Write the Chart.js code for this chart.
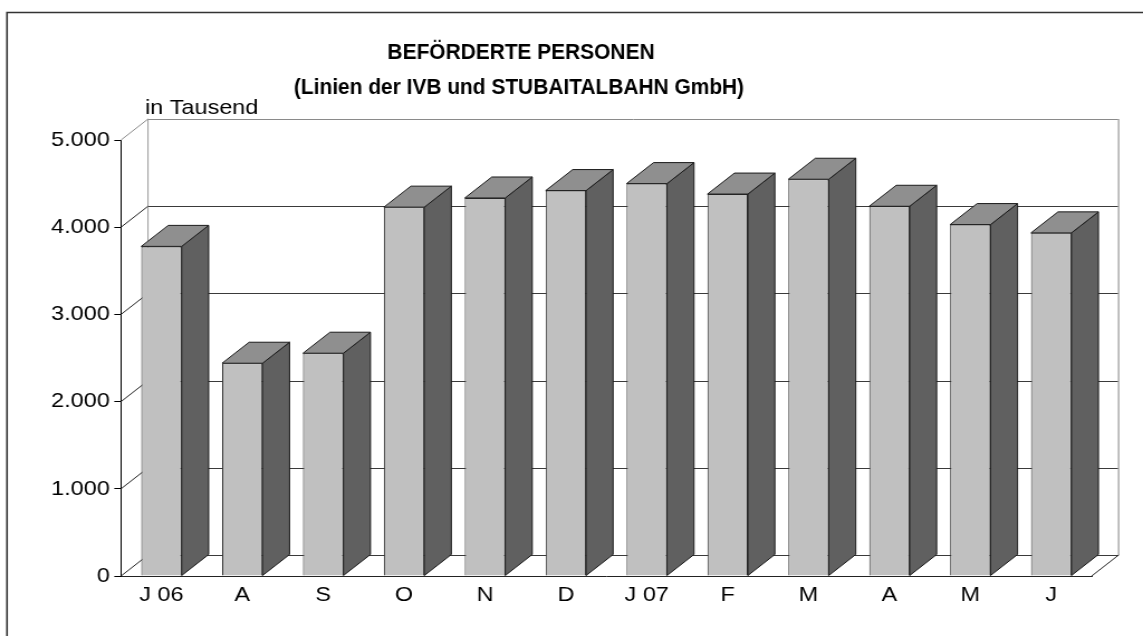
<!DOCTYPE html>
<html>
<head>
<meta charset="utf-8">
<script src="https://cdn.jsdelivr.net/npm/chart.js@4/dist/chart.umd.min.js"></script>
<style>
  html, body { margin: 0; padding: 0; background: #fff; }
</style>
</head>
<body>
<canvas id="c" width="1024" height="636" style="display:block;width:1143px;height:636px;"></canvas>
<script>
// ---- data ----
const categories = ['J 06', 'A', 'S', 'O', 'N', 'D', 'J 07', 'F', 'M', 'A', 'M', 'J'];
const values = [3780, 2440, 2555, 4230, 4335, 4420, 4500, 4380, 4550, 4240, 4030, 3935];
const yTickValues = [0, 1000, 2000, 3000, 4000, 5000];
const yTickLabels = ['0', '1.000', '2.000', '3.000', '4.000', '5.000'];
const titleLines = ['BEFÖRDERTE PERSONEN', '(Linien der IVB und STUBAITALBAHN GmbH)'];
const unitLabel = 'in Tausend';

// ---- styling ----
const STRETCH = 1143 / 1024;   // canvas is shown horizontally stretched
const DX = 24.2;               // depth offset (canvas px)
const DY = 21;
const FONT = '"Liberation Sans", Arial, Helvetica, sans-serif';

const canvas = document.getElementById('c');
canvas.style.width = '1143px';
canvas.style.height = '636px';

const threeD = {
  id: 'threeD',
  beforeDatasetsDraw(chart) {
    const { ctx, chartArea: a, scales: { y } } = chart;
    ctx.save();
    ctx.lineWidth = 1;
    // back wall grid lines
    yTickValues.forEach((v) => {
      const py = Math.round(y.getPixelForValue(v) - DY) + 0.5;
      ctx.strokeStyle = v === yTickValues[yTickValues.length - 1] ? '#8a8a8a' : '#3a3a3a';
      ctx.beginPath();
      ctx.moveTo(a.left + DX, py);
      ctx.lineTo(a.right + DX, py);
      ctx.stroke();
    });
    // left back edge
    ctx.strokeStyle = '#9a9a9a';
    ctx.beginPath();
    ctx.moveTo(a.left + DX, a.top - DY);
    ctx.lineTo(a.left + DX, a.bottom - DY);
    ctx.stroke();
    // right back edge
    ctx.strokeStyle = '#b0b0b0';
    ctx.lineWidth = 1.6;
    ctx.beginPath();
    ctx.moveTo(a.right + DX, a.top - DY);
    ctx.lineTo(a.right + DX, a.bottom - DY);
    ctx.stroke();
    ctx.lineWidth = 1;
    // diagonals from front axis ticks to back wall
    yTickValues.forEach((v) => {
      const py = y.getPixelForValue(v);
      ctx.strokeStyle = v === yTickValues[yTickValues.length - 1] ? '#8a8a8a' : '#222';
      ctx.beginPath();
      ctx.moveTo(a.left, py);
      ctx.lineTo(a.left + DX, py - DY);
      ctx.stroke();
    });
    // floor right diagonal
    ctx.strokeStyle = '#222';
    ctx.beginPath();
    ctx.moveTo(a.right, a.bottom);
    ctx.lineTo(a.right + DX, a.bottom - DY);
    ctx.stroke();
    ctx.restore();
  },
  afterDatasetsDraw(chart) {
    const { ctx } = chart;
    const meta = chart.getDatasetMeta(0);
    ctx.save();
    ctx.lineWidth = 1;
    ctx.lineJoin = 'miter';
    ctx.strokeStyle = '#1a1a1a';
    meta.data.forEach((el) => {
      const L = el.x - el.width / 2;
      const R = el.x + el.width / 2;
      const T = el.y;
      const B = el.base;
      // side face
      ctx.fillStyle = '#606060';
      ctx.beginPath();
      ctx.moveTo(R, T);
      ctx.lineTo(R + DX, T - DY);
      ctx.lineTo(R + DX, B - DY);
      ctx.lineTo(R, B);
      ctx.closePath();
      ctx.fill();
      ctx.stroke();
      // top face
      ctx.fillStyle = '#8f8f8f';
      ctx.beginPath();
      ctx.moveTo(L, T);
      ctx.lineTo(L + DX, T - DY);
      ctx.lineTo(R + DX, T - DY);
      ctx.lineTo(R, T);
      ctx.closePath();
      ctx.fill();
      ctx.stroke();
    });
    ctx.restore();
  },
  afterDraw(chart) {
    const { ctx } = chart;
    ctx.save();
    // outer frame (top + left)
    ctx.strokeStyle = '#333';
    ctx.lineWidth = 1.6;
    ctx.beginPath();
    ctx.moveTo(1024, 12.5);
    ctx.lineTo(7 / STRETCH, 12.5);
    ctx.lineTo(7 / STRETCH, 636);
    ctx.stroke();
    // unit label
    ctx.fillStyle = '#000';
    ctx.font = '21px ' + FONT;
    ctx.textAlign = 'left';
    ctx.textBaseline = 'alphabetic';
    ctx.fillText(unitLabel, 145 / STRETCH, 114);
    // title (slightly condensed on screen)
    const k = 0.95;
    ctx.scale(k / STRETCH, 1);
    ctx.font = 'bold 22px ' + FONT;
    ctx.textAlign = 'center';
    ctx.fillText(titleLines[0], 521 / k, 58.5);
    ctx.fillText(titleLines[1], 519 / k, 93.5);
    ctx.restore();
  }
};

new Chart(canvas, {
  type: 'bar',
  data: {
    labels: categories,
    datasets: [{
      data: values,
      backgroundColor: '#c0c0c0',
      borderColor: '#333',
      borderWidth: 1,
      categoryPercentage: 1,
      barPercentage: 0.5
    }]
  },
  options: {
    responsive: false,
    devicePixelRatio: 1,
    animation: false,
    layout: { padding: { top: 140, right: 46, bottom: 0, left: 0 } },
    plugins: { legend: { display: false }, title: { display: false }, tooltip: { enabled: false } },
    scales: {
      x: {
        grid: { display: false, drawTicks: false },
        border: { display: true, color: '#222', width: 1 },
        ticks: { color: '#000', font: { family: FONT, size: 21 }, padding: 7, maxRotation: 0, autoSkip: false },
        afterFit(scale) { scale.height = 60; }
      },
      y: {
        min: 0,
        max: 5000,
        grid: { drawOnChartArea: false, drawTicks: true, tickLength: 6, color: '#000' },
        border: { display: true, color: '#000', width: 1 },
        ticks: {
          stepSize: 1000,
          color: '#000',
          padding: 4,
          font: { family: FONT, size: 21 },
          callback: (v) => yTickLabels[yTickValues.indexOf(v)]
        },
        afterFit(scale) { scale.width = 108.4; }
      }
    }
  },
  plugins: [threeD]
});
canvas.style.width = '1143px';
canvas.style.height = '636px';
</script>
</body>
</html>
